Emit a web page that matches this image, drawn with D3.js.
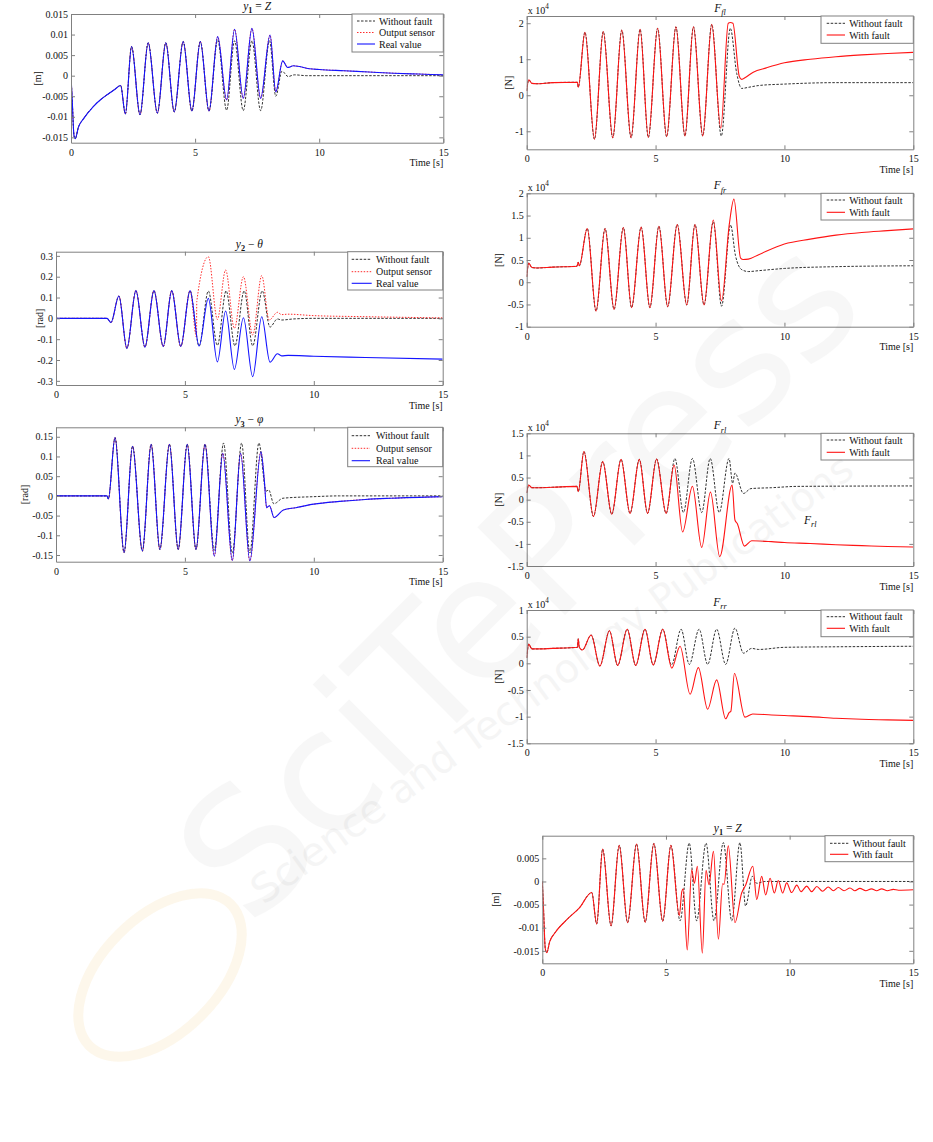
<!DOCTYPE html>
<html><head><meta charset="utf-8">
<script src="https://cdn.jsdelivr.net/npm/d3@7"></script>
<style>
body{margin:0;background:#fff}
svg{display:block}
text{font-family:"Liberation Serif","Times New Roman",serif;fill:#111}
</style></head>
<body><svg id="c" width="933" height="1142"></svg>
<script>
// ---------------- DATA ----------------
const timeTicks=[0,5,10,15];
const zTicks=[-0.015,-0.01,-0.005,0,0.005,0.01,0.015];
const thetaTicks=[-0.3,-0.2,-0.1,0,0.1,0.2,0.3];
const phiTicks=[-0.15,-0.1,-0.05,0,0.05,0.1,0.15];
const fflTicks=[-1,0,1,2];
const ffrTicks=[-1,-0.5,0,0.5,1,1.5,2];
const frlTicks=[-1.5,-1,-0.5,0,0.5,1,1.5];
const frrTicks=[-1.5,-1,-0.5,0,0.5,1];
const z8Ticks=[-0.015,-0.01,-0.005,0,0.005];
const legendSensor=["Without fault","Output sensor","Real value"];
const legendFault=["Without fault","With fault"];
const timeLabel="Time [s]";

// y1 = Z (sensor fault figure)
const zCommon=[[0,0],[0.05,-0.006],[0.12,-0.0145],[0.17,-0.0153],[0.3,-0.0125],[0.5,-0.0105],[0.9,-0.0075],[1.2,-0.0058],[1.44,-0.0047],[1.75,-0.0034],[2.0,-0.0024],[2.19,-0.0093],[2.44,0.0071],[2.78,-0.0095],[3.11,0.008],[3.48,-0.0091],[3.82,0.008],[4.16,-0.0088],[4.52,0.0083],[4.87,-0.0086],[5.21,0.0083],[5.56,-0.0086]];
const zRealTail=[[5.91,0.0095],[6.27,-0.0059],[6.59,0.0113],[6.94,-0.0055],[7.29,0.0115],[7.64,-0.0055],[8.02,0.0099],[8.25,-0.0039],[8.53,0.0036],[8.73,0.002],[8.96,0.0024],[9.6,0.0017],[10,0.0015],[11,0.0012],[12,0.0009],[13,0.0006],[14,0.0004],[15,0.0002]];
const zNoFaultTail=[[5.91,0.0087],[6.27,-0.0084],[6.59,0.0085],[6.94,-0.0085],[7.29,0.0085],[7.64,-0.0085],[8.0,0.0085],[8.25,-0.005],[8.5,0.0011],[8.75,-0.0002],[9.0,0.0002],[9.5,0],[15,0]];

// y2 - theta
const thCommon=[[0,0],[1.98,0],[2.13,-0.02],[2.44,0.107],[2.75,-0.144],[3.1,0.133],[3.45,-0.138],[3.8,0.133],[4.16,-0.135],[4.49,0.133],[4.84,-0.135],[5.2,0.133]];
const thRealTail=[[5.55,-0.133],[5.91,0.096],[6.26,-0.209],[6.58,0.035],[6.92,-0.245],[7.27,0.003],[7.63,-0.28],[7.98,0.008],[8.3,-0.21],[8.59,-0.17],[8.75,-0.18],[9.0,-0.178],[10,-0.182],[12,-0.188],[15,-0.196]];
const thNoFaultTail=[[5.55,-0.133],[5.91,0.131],[6.26,-0.13],[6.6,0.132],[6.94,-0.132],[7.3,0.132],[7.63,-0.132],[8.0,0.132],[8.3,-0.042],[8.59,-0.003],[8.75,-0.008],[9.2,-0.003],[10,0],[15,0]];
const thSensorTail=[[5.45,-0.09],[5.46,0.08],[5.91,0.296],[6.26,-0.005],[6.58,0.232],[6.92,-0.048],[7.27,0.2],[7.63,-0.08],[7.98,0.205],[8.27,-0.008],[8.59,0.029],[8.75,0.018],[9.0,0.02],[10,0.013],[12,0.008],[15,0.002]];

// y3 - phi
const phCommon=[[0,0],[1.98,0],[2.03,-0.008],[2.29,0.148],[2.64,-0.144],[2.97,0.126],[3.35,-0.14],[3.69,0.131],[4.03,-0.136],[4.4,0.131],[4.74,-0.136],[5.09,0.131],[5.43,-0.136],[5.78,0.131]];
const phRealTail=[[6.14,-0.153],[6.47,0.108],[6.84,-0.164],[7.16,0.108],[7.52,-0.165],[7.95,0.112],[8.08,0.04],[8.17,-0.03],[8.28,-0.025],[8.46,-0.055],[8.82,-0.036],[9.3,-0.03],[10,-0.021],[11,-0.014],[12,-0.009],[13,-0.006],[15,-0.002]];
const phNoFaultTail=[[6.14,-0.138],[6.5,0.134],[6.84,-0.145],[7.2,0.134],[7.52,-0.145],[7.87,0.134],[8.15,0.012],[8.25,0.015],[8.45,-0.02],[8.8,-0.006],[10,-0.002],[11,0],[15,0]];

// F_fl (x 10^4 N)
const fflCommon=[[0,0.12],[0.08,0.43],[0.2,0.33],[0.4,0.32],[1,0.35],[1.97,0.36],[2.0,0.22],[2.26,1.75],[2.63,-1.22],[2.97,1.77],[3.34,-1.18],[3.69,1.81],[4.05,-1.18],[4.4,1.83],[4.72,-1.17],[5.08,1.86],[5.43,-1.15],[5.79,1.9],[6.14,-1.13],[6.47,1.9],[6.83,-1.13],[7.18,1.97]];
const fflFaultTail=[[7.53,-0.92],[7.82,2.0],[7.9,2.02],[8.0,2.0],[8.25,0.52],[8.34,0.44],[8.5,0.5],[8.79,0.64],[9.3,0.76],[10,0.9],[11,1.0],[12,1.07],[13,1.12],[14,1.16],[15,1.19]];
const fflNoFaultTail=[[7.55,-1.13],[7.9,1.86],[8.15,0.6],[8.34,0.19],[8.6,0.22],[9,0.27],[10,0.31],[12,0.35],[15,0.35]];

// F_fr
const ffrCommon=[[0,0.12],[0.08,0.43],[0.2,0.33],[0.4,0.32],[1,0.34],[1.95,0.36],[2.0,0.45],[2.04,0.37],[2.35,1.21],[2.69,-0.65],[3.04,1.21],[3.39,-0.61],[3.75,1.23],[4.07,-0.57],[4.44,1.24],[4.78,-0.57],[5.13,1.26],[5.47,-0.55],[5.84,1.3],[6.21,-0.51],[6.53,1.3],[6.88,-0.51]];
const ffrFaultTail=[[7.24,1.4],[7.56,-0.42],[7.86,1.3],[8.04,1.87],[8.3,0.54],[8.4,0.51],[8.6,0.52],[9,0.62],[10,0.86],[11,0.97],[12,1.06],[13,1.12],[14,1.16],[15,1.2]];
const ffrNoFaultTail=[[7.24,1.36],[7.56,-0.54],[7.91,1.29],[8.1,0.6],[8.35,0.28],[8.6,0.24],[9,0.26],[10,0.31],[12,0.35],[15,0.37]];

// F_rl
const frlCommon=[[0,0.15],[0.08,0.33],[0.2,0.27],[0.4,0.27],[1,0.28],[1.95,0.3],[2.0,0.18],[2.22,1.09],[2.59,-0.38],[2.95,0.86],[3.3,-0.33],[3.66,0.91],[4.01,-0.31],[4.37,0.91],[4.69,-0.31],[5.04,0.92],[5.41,-0.31]];
const frlFaultTail=[[5.72,0.78],[6.05,-0.73],[6.43,0.3],[6.79,-1.08],[7.13,0.17],[7.49,-1.29],[7.97,0.33],[8.08,-0.46],[8.17,-0.54],[8.45,-1.05],[8.73,-0.93],[9.5,-0.95],[10,-0.97],[11,-0.99],[12,-1.02],[13,-1.04],[14,-1.06],[15,-1.07]];
const frlNoFaultTail=[[5.75,0.93],[6.08,-0.29],[6.43,0.93],[6.79,-0.29],[7.12,0.93],[7.47,-0.29],[7.85,0.93],[7.99,0.37],[8.08,0.6],[8.41,0.14],[8.7,0.25],[9.5,0.27],[10.5,0.3],[15,0.31]];

// F_rr
const frrCommon=[[0,0.1],[0.08,0.36],[0.2,0.27],[0.4,0.27],[1,0.28],[1.97,0.3],[2.0,0.46],[2.04,0.3],[2.16,0.25],[2.5,0.53],[2.84,-0.05],[3.21,0.61],[3.53,-0.04],[3.9,0.64],[4.23,-0.04],[4.59,0.64],[4.91,-0.03],[5.28,0.64]];
const frrFaultTail=[[5.63,-0.09],[5.95,0.32],[6.34,-0.58],[6.66,-0.08],[7.02,-0.86],[7.37,-0.31],[7.72,-1.04],[7.86,-0.92],[7.92,-0.9],[8.06,-0.19],[8.47,-1.01],[8.77,-0.95],[9.5,-0.97],[10,-0.98],[11,-1.0],[12,-1.03],[13,-1.05],[14,-1.06],[15,-1.07]];
const frrNoFaultTail=[[5.62,-0.03],[5.99,0.64],[6.31,-0.02],[6.69,0.64],[7.02,-0.02],[7.37,0.64],[7.72,-0.02],[8.08,0.66],[8.41,0.19],[8.73,0.28],[9,0.26],[10,0.3],[12,0.31],[15,0.32]];

// y1 = Z (actuator fault figure)
const z8Common=[[0,0],[0.05,-0.006],[0.12,-0.0145],[0.18,-0.0154],[0.3,-0.013],[0.5,-0.0112],[1,-0.0082],[1.5,-0.0057],[2.0,-0.0024],[2.2,-0.0092],[2.44,0.007],[2.78,-0.0096],[3.11,0.0078],[3.45,-0.0089],[3.81,0.0081],[4.16,-0.0088],[4.51,0.0082],[4.87,-0.0086],[5.2,0.0078]];
const z8FaultTail=[[5.54,-0.0074],[5.64,-0.0022],[5.7,-0.0016],[5.86,-0.0148],[6.04,0.0025],[6.15,-0.0004],[6.27,0.0033],[6.47,-0.0155],[6.62,0.0024],[6.74,-0.0007],[6.92,0.0065],[7.12,-0.0125],[7.29,-0.0005],[7.35,-0.0006],[7.52,0.0077],[7.79,-0.0089],[8.06,-0.0025],[8.22,-0.0008],[8.51,0.0033],[8.67,-0.0039],[8.87,0.0011],[9.03,-0.0029],[9.21,0.0007],[9.38,-0.0025],[9.54,0.0002],[9.72,-0.0025],[9.88,-0.0003],[10.08,-0.0024],[10.29,-0.0008],[10.46,-0.0022],[10.69,-0.001],[10.89,-0.0022],[11.1,-0.0011],[11.33,-0.0021],[11.56,-0.0012],[11.77,-0.002],[11.97,-0.0013],[12.2,-0.002],[12.44,-0.0014],[12.64,-0.002],[12.84,-0.0015],[13.08,-0.002],[13.31,-0.0016],[13.52,-0.002],[13.72,-0.0016],[13.95,-0.002],[14.19,-0.0017],[14.4,-0.0019],[15,-0.0018]];
const z8NoFaultTail=[[5.57,-0.0085],[5.94,0.0083],[6.24,-0.0085],[6.62,0.0083],[6.94,-0.0085],[7.32,0.0084],[7.66,-0.0085],[7.99,0.0084],[8.22,-0.0053],[8.49,0.0011],[8.67,-0.0004],[9,0],[15,0]];

// ---------------- DRAWING ----------------
const svg=d3.select("#c");
const BLUE="#1414ff", RED="#ff1414", BLK="#1a1a1a", AX="#808080";
const sReal={color:BLUE,w:1.1}, sNo={color:BLK,w:0.9,dash:"2.5,1.5"}, sSens={color:RED,w:0.9,dash:"1.5,1.5"}, sFault={color:RED,w:1.1};

function fmt(v){const r=Math.round(v*10000)/10000;return r===0?"0":String(r);}

function rich(g,x,y,parts,size,anchor,rot){
  const t=g.append("text").attr("x",x).attr("y",y).attr("text-anchor",anchor||"middle").attr("font-size",size);
  if(rot) t.attr("transform",`rotate(${rot},${x},${y})`);
  let shift=0;
  parts.forEach(([s,st])=>{
    const f=(st||"").split(" ");
    const sp=t.append("tspan").text(s);
    const sub=f.includes("sub"), sup=f.includes("sup");
    const target=sub?size*0.3:sup?-size*0.45:0;
    if(target-shift!==0) sp.attr("dy",target-shift);
    shift=target;
    if(sub||sup) sp.attr("font-size",size*0.72);
    if(f.includes("i")) sp.attr("font-style","italic");
    if(f.includes("b")) sp.attr("font-weight","bold");
  });
  return t;
}

function panel(o){
  const g=svg.append("g");
  const x=d3.scaleLinear().domain([0,15]).range([o.l,o.r]);
  const y=d3.scaleLinear().domain(o.yd).range([o.b,o.t]);
  const cid="clip"+o.id;
  svg.append("clipPath").attr("id",cid).append("rect").attr("x",o.l).attr("y",o.t).attr("width",o.r-o.l).attr("height",o.b-o.t);
  const line=d3.line().x(d=>x(d[0])).y(d=>y(d[1])).curve(d3.curveMonotoneX);
  o.series.forEach(s=>{
    g.append("path").attr("d",line(s.data)).attr("clip-path",`url(#${cid})`)
      .attr("fill","none").attr("stroke",s.st.color).attr("stroke-width",s.st.w)
      .attr("stroke-dasharray",s.st.dash||null).attr("stroke-linejoin","round");
  });
  const ax=(gen,tr,lab)=>{
    const a=g.append("g").attr("transform",tr).call(gen);
    a.select(".domain").attr("stroke",AX);
    a.selectAll(".tick line").attr("stroke",AX);
    a.selectAll(".tick text").attr("font-size",10).attr("font-family","Liberation Serif").attr("fill","#111");
    if(!lab) a.selectAll(".tick text").remove();
    return a;
  };
  ax(d3.axisBottom(x).tickValues(timeTicks).tickSize(-4).tickSizeOuter(0).tickPadding(6).tickFormat(d3.format("d")),`translate(0,${o.b})`,true);
  ax(d3.axisTop(x).tickValues(timeTicks).tickSize(-4).tickSizeOuter(0),`translate(0,${o.t})`,false);
  ax(d3.axisLeft(y).tickValues(o.ticks).tickSize(-4).tickSizeOuter(0).tickPadding(3).tickFormat(fmt),`translate(${o.l},0)`,true);
  ax(d3.axisRight(y).tickValues(o.ticks).tickSize(-4).tickSizeOuter(0),`translate(${o.r},0)`,false);
  rich(g,(o.l+o.r)/2,o.t-4,o.title,11.5,"middle");
  if(o.exp) rich(g,o.l+1,o.t-2.5,[["x 10",""],["4","sup"]],10,"start");
  g.append("text").attr("transform",`translate(${o.ylx},${(o.t+o.b)/2}) rotate(-90)`).attr("text-anchor","middle").attr("dy","0.35em").attr("font-size",10).text(o.ylab);
  g.append("text").attr("x",o.r).attr("y",o.b+23.5).attr("text-anchor","end").attr("font-size",10).text(timeLabel);
  const L=o.leg;
  g.append("rect").attr("x",L.x0).attr("y",L.y0).attr("width",L.x1-L.x0).attr("height",L.y1-L.y0).attr("fill","#fff").attr("stroke",AX).attr("stroke-width",1);
  L.items.forEach((it,i)=>{
    const cy=L.rows[i];
    g.append("line").attr("x1",L.sx0).attr("x2",L.sx1).attr("y1",cy).attr("y2",cy).attr("stroke",it.st.color).attr("stroke-width",it.st.w).attr("stroke-dasharray",it.st.dash||null);
    g.append("text").attr("x",L.tx).attr("y",cy).attr("dy","0.35em").attr("font-size",10).text(it.label);
  });
  return {g,x,y};
}

const T_Z=[["y","i"],["1","sub b"],[" = ",""],["Z","i"]];

panel({id:1,l:71,r:443.3,t:14,b:142.7,yd:[-0.0163,0.015],ticks:zTicks,title:T_Z,ylab:"[m]",ylx:37,
  series:[{data:zCommon.concat(zRealTail),st:sSens},{data:zCommon.concat(zNoFaultTail),st:sNo},{data:zCommon.concat(zRealTail),st:sReal}],
  leg:{x0:352,x1:443.3,y0:14,y1:52,rows:[21,32.5,44],sx0:357,sx1:375,tx:379,items:[{label:legendSensor[0],st:sNo},{label:legendSensor[1],st:sSens},{label:legendSensor[2],st:sReal}]}});

panel({id:2,l:56,r:442.7,t:251.7,b:385,yd:[-0.32,0.32],ticks:thetaTicks,title:[["y","i"],["2","sub b"],[" − ",""],["θ","i"]],ylab:"[rad]",ylx:39,
  series:[{data:thCommon.concat(thNoFaultTail),st:sNo},{data:thCommon.concat(thSensorTail),st:sSens},{data:thCommon.concat(thRealTail),st:sReal}],
  leg:{x0:347.7,x1:442.7,y0:251.7,y1:290,rows:[259.3,271.7,283.3],sx0:351.7,sx1:371.7,tx:376,items:[{label:legendSensor[0],st:sNo},{label:legendSensor[1],st:sSens},{label:legendSensor[2],st:sReal}]}});

panel({id:3,l:56,r:442.7,t:427.3,b:561.7,yd:[-0.167,0.174],ticks:phiTicks,title:[["y","i"],["3","sub b"],[" − ",""],["φ","i"]],ylab:"[rad]",ylx:24,
  series:[{data:phCommon.concat(phRealTail),st:sSens},{data:phCommon.concat(phNoFaultTail),st:sNo},{data:phCommon.concat(phRealTail),st:sReal}],
  leg:{x0:347.7,x1:442.7,y0:427.3,y1:466.7,rows:[435.7,448.3,460.7],sx0:351.7,sx1:370,tx:376,items:[{label:legendSensor[0],st:sNo},{label:legendSensor[1],st:sSens},{label:legendSensor[2],st:sReal}]}});

const legF=(x0,y0,y1,r1,r2,sx0,sx1,tx)=>({x0,x1:913.3,y0,y1,rows:[r1,r2],sx0,sx1,tx,items:[{label:legendFault[0],st:sNo},{label:legendFault[1],st:sFault}]});

panel({id:4,l:526.7,r:913.3,t:16,b:149.3,yd:[-1.5,2.2],ticks:fflTicks,exp:true,title:[["F","i"],["fl","sub i"]],ylab:"[N]",ylx:508,
  series:[{data:fflCommon.concat(fflNoFaultTail),st:sNo},{data:fflCommon.concat(fflFaultTail),st:sFault}],
  leg:legF(821,16,43.3,23.3,35,826.7,845,849.3)});

panel({id:5,l:526.7,r:913.3,t:193.3,b:326.7,yd:[-1,2],ticks:ffrTicks,exp:true,title:[["F","i"],["fr","sub i"]],ylab:"[N]",ylx:498,
  series:[{data:ffrCommon.concat(ffrNoFaultTail),st:sNo},{data:ffrCommon.concat(ffrFaultTail),st:sFault}],
  leg:legF(821,193.3,220,200,212.3,826.7,845,849.3)});

const p6=panel({id:6,l:526.7,r:913.3,t:433.3,b:566,yd:[-1.5,1.5],ticks:frlTicks,exp:true,title:[["F","i"],["rl","sub i"]],ylab:"[N]",ylx:498,
  series:[{data:frlCommon.concat(frlNoFaultTail),st:sNo},{data:frlCommon.concat(frlFaultTail),st:sFault}],
  leg:legF(821,433.3,460,440,452.3,826.7,845,849.3)});
rich(p6.g,p6.x(11),p6.y(-0.55),[["F","i"],["rl","sub i"]],11.5,"middle");

panel({id:7,l:526.7,r:913.3,t:610,b:743.3,yd:[-1.5,1],ticks:frrTicks,exp:true,title:[["F","i"],["rr","sub i"]],ylab:"[N]",ylx:498,
  series:[{data:frrCommon.concat(frrNoFaultTail),st:sNo},{data:frrCommon.concat(frrFaultTail),st:sFault}],
  leg:legF(821,610,636.7,616.7,628.3,826.7,845,849.3)});

panel({id:8,l:542.3,r:913.3,t:835.7,b:963.3,yd:[-0.0177,0.0099],ticks:z8Ticks,title:T_Z,ylab:"[m]",ylx:495,
  series:[{data:z8Common.concat(z8NoFaultTail),st:sNo},{data:z8Common.concat(z8FaultTail),st:sFault}],
  leg:legF(825,835.7,861.7,843.3,854.3,830,848.3,852.7)});

// very faint publisher watermark
const wm=svg.append("g").attr("pointer-events","none");
wm.append("ellipse").attr("cx",160).attr("cy",975).attr("rx",100).attr("ry",58).attr("transform","rotate(-45,160,975)")
  .attr("fill","none").attr("stroke","#f3d89a").attr("stroke-width",10).attr("opacity",0.2);
wm.append("text").attr("x",560).attr("y",620).attr("text-anchor","middle").style("font-size","170px").style("font-family","DejaVu Sans")
  .attr("transform","rotate(-45,560,620)").style("fill","#000").attr("opacity",0.028).text("SciTePress");
wm.append("text").attr("x",560).attr("y",690).attr("text-anchor","middle").style("font-size","40px").style("font-family","DejaVu Sans")
  .attr("transform","rotate(-36,560,690)").style("fill","#000").attr("opacity",0.035).text("Science and Technology Publications");
</script></body></html>
